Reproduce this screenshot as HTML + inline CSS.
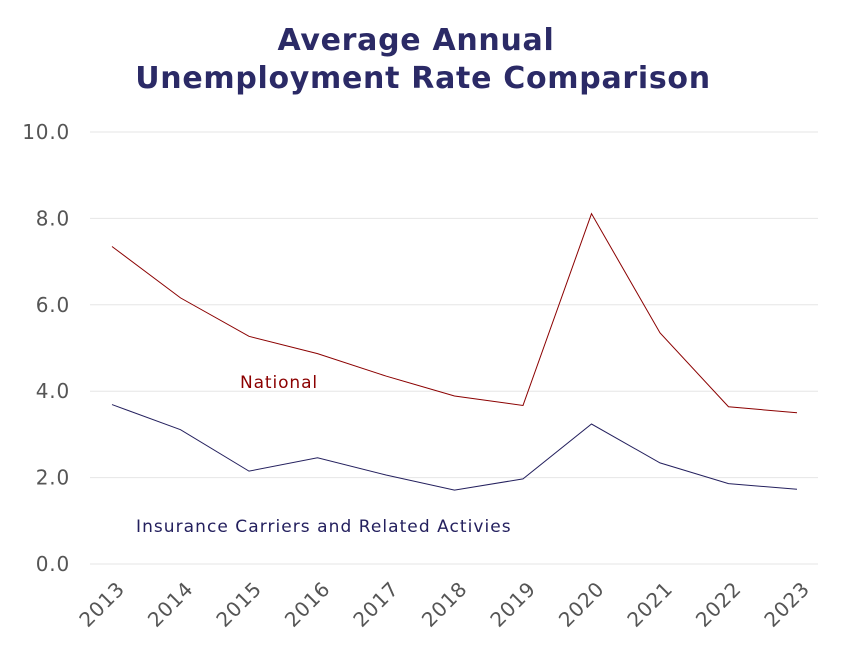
<!DOCTYPE html>
<html><head><meta charset="utf-8"><style>
body{margin:0;background:#fff;font-family:"Liberation Sans","DejaVu Sans",sans-serif}
svg text{font-family:"DejaVu Sans","Liberation Sans",sans-serif}
</style></head><body>
<svg id="chart" width="846" height="650">
<text x="416" y="50" text-anchor="middle" font-size="30" font-weight="bold" fill="#2b2a66" letter-spacing="0.7">Average Annual</text>
<text x="423" y="88" text-anchor="middle" font-size="30" font-weight="bold" fill="#2b2a66" letter-spacing="0.7">Unemployment Rate Comparison</text>
<g id="grid"></g><g id="ylabels"></g><g id="xlabels"></g><g id="lines"></g>
<text x="240" y="388" font-size="17" fill="#8b0000" letter-spacing="0.9">National</text>
<text x="136" y="532" font-size="17" fill="#24205e" letter-spacing="1.05">Insurance Carriers and Related Activies</text>
</svg>
<script>
const years=["2013","2014","2015","2016","2017","2018","2019","2020","2021","2022","2023"];
const national=[7.35,6.16,5.27,4.87,4.35,3.89,3.67,8.11,5.35,3.64,3.5];
const insurance=[3.69,3.11,2.15,2.46,2.06,1.71,1.97,3.24,2.34,1.86,1.73];
const yTicks=[0,2,4,6,8,10];
const NS="http://www.w3.org/2000/svg";
const x=i=>112+i*68.5, y=v=>564-v*43.2;
function mk(t,a,p){const e=document.createElementNS(NS,t);for(const k in a)e.setAttribute(k,a[k]);document.getElementById(p).appendChild(e);return e;}
yTicks.forEach(v=>{
 const l=mk('line',{x1:90,x2:818,y1:y(v),y2:y(v),stroke:'#e6e6e6','stroke-width':1},'grid');
 
 
 const t=mk('text',{x:70,y:y(v)+7,'text-anchor':'end','font-size':20,fill:'#555','letter-spacing':0.8},'ylabels');
 t.textContent=v.toFixed(1);
 
 
});
years.forEach((yr,i)=>{
 const t=mk('text',{x:x(i)+14,y:590,'text-anchor':'end','font-size':20,fill:'#555','letter-spacing':0.8,transform:`rotate(-45 ${x(i)+14} 590)`},'xlabels');
 t.textContent=yr;
 
 
});
function line(d,c,n){
 const p=mk('polyline',{points:d.map((v,i)=>x(i)+','+y(v)).join(' '),fill:'none',stroke:c,'stroke-width':1},'lines');
 
 
}
line(national,'#8b0000','national-line');
line(insurance,'#24205e','insurance-line');
</script>
</body></html>
